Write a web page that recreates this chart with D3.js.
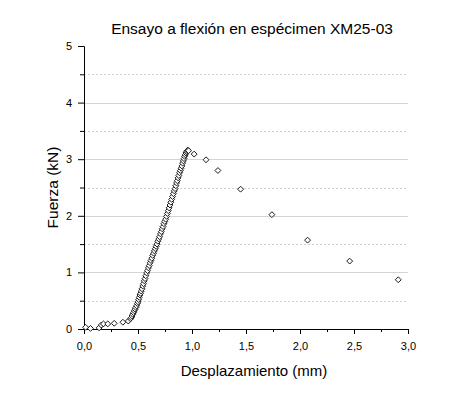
<!DOCTYPE html>
<html>
<head>
    <meta charset="utf-8">
    <title>Ensayo a flexión en espécimen XM25-03</title>
    <style>
        body {
            margin: 0;
            background: #fff;
            font-family: "Liberation Sans", Arial, sans-serif;
        }
        .grid-major { stroke: #d4d4d4; stroke-width: 1px; }
        .grid-minor { stroke: #d0d0d0; stroke-width: 1px; stroke-dasharray: 2,2; }
        .axis path, .axis line { stroke: #000; }
        .axis text { font-family: "Liberation Sans", Arial, sans-serif; font-size: 11px; fill: #000; }
        .pt { fill: #fff; stroke: #1a1a1a; stroke-width: 1px; }
    </style>
</head>
<body>
    <script src="https://d3js.org/d3.v7.min.js"></script>
    <script>
        // chart data (displacement in mm, force in kN)
        var toeX = [0.015, 0.06, 0.14, 0.16, 0.18, 0.22, 0.28, 0.36, 0.41];
        var toeY = [0.03, 0.01, 0.02, 0.07, 0.09, 0.09, 0.10, 0.12, 0.14];

        var riseX = [0.430, 0.438, 0.445, 0.452, 0.459, 0.466, 0.473, 0.480, 0.487, 0.494,
                     0.500, 0.506, 0.512, 0.518, 0.524, 0.530, 0.537, 0.544, 0.551, 0.558,
                     0.565, 0.572, 0.580, 0.588, 0.596, 0.604, 0.612, 0.620, 0.628, 0.636,
                     0.644, 0.652, 0.660, 0.668, 0.676, 0.684, 0.692, 0.700, 0.708, 0.716,
                     0.724, 0.732, 0.740, 0.748, 0.756, 0.764, 0.772, 0.780, 0.788, 0.796,
                     0.804, 0.812, 0.820, 0.828, 0.836, 0.843, 0.850, 0.857, 0.864, 0.871,
                     0.878, 0.885, 0.892, 0.899, 0.906, 0.913, 0.920, 0.926, 0.932, 0.938,
                     0.944, 0.950, 0.956, 0.962, 0.968];
        var riseY = [0.18, 0.20, 0.23, 0.26, 0.29, 0.32, 0.35, 0.38, 0.41, 0.45,
                     0.48, 0.52, 0.56, 0.60, 0.63, 0.67, 0.71, 0.76, 0.80, 0.85,
                     0.89, 0.94, 0.99, 1.03, 1.08, 1.12, 1.17, 1.21, 1.25, 1.30,
                     1.34, 1.38, 1.42, 1.46, 1.50, 1.55, 1.59, 1.63, 1.68, 1.72,
                     1.77, 1.81, 1.86, 1.90, 1.94, 1.99, 2.04, 2.09, 2.14, 2.19,
                     2.24, 2.29, 2.34, 2.39, 2.44, 2.48, 2.53, 2.58, 2.62, 2.67,
                     2.71, 2.76, 2.80, 2.84, 2.88, 2.93, 2.97, 3.01, 3.05, 3.08,
                     3.11, 3.13, 3.15, 3.16, 3.15];

        var postX = [1.02, 1.13, 1.24, 1.45, 1.74, 2.07, 2.46, 2.91];
        var postY = [3.09, 2.99, 2.80, 2.47, 2.02, 1.57, 1.20, 0.87];

        var xTicks = [0, 0.5, 1.0, 1.5, 2.0, 2.5, 3.0];
        var yTicks = [0, 1, 2, 3, 4, 5];

        var width = 474, height = 395;
        var margin = { top: 46, right: 66, bottom: 66, left: 84 };
        var w = width - margin.left - margin.right;
        var h = height - margin.top - margin.bottom;

        var svg = d3.select("body").append("svg")
            .attr("width", width)
            .attr("height", height);

        var g = svg.append("g")
            .attr("transform", "translate(" + margin.left + "," + margin.top + ")");

        var x = d3.scaleLinear().domain([0, 3]).range([0, w]);
        var y = d3.scaleLinear().domain([0, 5]).range([h, 0]);

        // gridlines: solid on the majors, dashed on the halves
        var minorY = d3.range(0.5, 5, 1);
        g.selectAll(".grid-minor").data(minorY).enter().append("line")
            .attr("class", "grid-minor")
            .attr("x1", 0).attr("x2", w)
            .attr("y1", d => Math.round(y(d)) + 0.5).attr("y2", d => Math.round(y(d)) + 0.5);
        g.selectAll(".grid-major").data([1, 2, 3, 4]).enter().append("line")
            .attr("class", "grid-major")
            .attr("x1", 0).attr("x2", w)
            .attr("y1", d => Math.round(y(d)) + 0.5).attr("y2", d => Math.round(y(d)) + 0.5);

        // axes
        var fmt = d3.format(".1f");
        var xAxis = g.append("g")
            .attr("class", "axis")
            .attr("transform", "translate(0," + h + ")")
            .call(d3.axisBottom(x).tickValues(xTicks).tickSizeOuter(0).tickSize(5).tickPadding(8)
                .tickFormat(d => fmt(d).replace(".", ",")));
        xAxis.selectAll(".minor").data(d3.range(0.25, 3, 0.5)).enter().append("line")
            .attr("class", "minor")
            .attr("x1", d => x(d) + 0.5).attr("x2", d => x(d) + 0.5)
            .attr("y1", 0).attr("y2", 3)
            .attr("stroke", "#000");

        var yAxis = g.append("g")
            .attr("class", "axis")
            .call(d3.axisLeft(y).tickValues(yTicks).tickSizeOuter(0).tickSize(6).tickPadding(6)
                .tickFormat(d3.format("d")));
        yAxis.selectAll(".minor").data(minorY).enter().append("line")
            .attr("class", "minor")
            .attr("x1", -4).attr("x2", 0)
            .attr("y1", d => y(d) + 0.5).attr("y2", d => y(d) + 0.5)
            .attr("stroke", "#000");

        // points
        var pts = [];
        toeX.forEach((v, i) => pts.push([v, toeY[i]]));
        riseX.forEach((v, i) => pts.push([v, riseY[i]]));
        postX.forEach((v, i) => pts.push([v, postY[i]]));

        var diamond = d3.symbol().type(d3.symbolDiamond2).size(22);
        g.append("g").selectAll("path").data(pts).enter().append("path")
            .attr("class", "pt")
            .attr("d", diamond)
            .attr("transform", d => "translate(" + x(d[0]) + "," + y(d[1]) + ")");

        // titles
        svg.append("text")
            .attr("x", 252).attr("y", 34)
            .attr("text-anchor", "middle")
            .style("font-size", "15.5px")
            .text("Ensayo a flexión en espécimen XM25-03");

        svg.append("text")
            .attr("x", margin.left + w / 2 + 8).attr("y", 376)
            .attr("text-anchor", "middle")
            .style("font-size", "15px")
            .text("Desplazamiento (mm)");

        svg.append("text")
            .attr("transform", "translate(58," + (margin.top + h / 2) + ") rotate(-90)")
            .attr("text-anchor", "middle")
            .style("font-size", "15.5px")
            .text("Fuerza (kN)");
    </script>
</body>
</html>
